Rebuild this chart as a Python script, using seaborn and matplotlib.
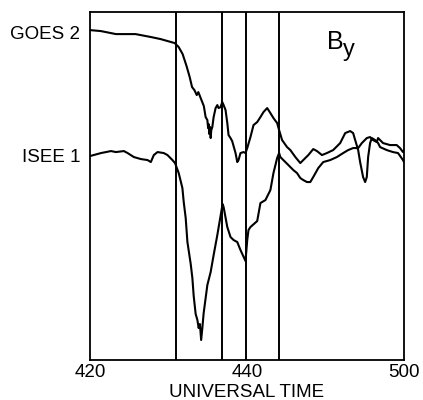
import numpy as np
import pandas as pd
import matplotlib.pyplot as plt
import seaborn as sns

# time in minutes after 04:20 UT, field in arbitrary plot units
goes_t = [0, 1.4, 3.3, 5.8, 7.8, 9.0, 9.9, 10.8, 11.3, 11.8, 12.3, 12.7, 13.0, 13.3,
          13.6, 13.8, 14.2, 14.5, 14.73, 14.95, 15.05, 15.11, 15.2, 15.3, 15.37, 15.45,
          15.58, 15.75, 16.0, 16.22, 16.38, 16.63, 16.85, 17.02, 17.27, 17.49, 17.65,
          17.9, 18.11, 18.29, 18.54, 18.76, 18.92, 19.17, 19.56, 19.81, 20.03, 20.44,
          20.83, 21.3, 21.71, 22.1, 22.57, 22.98, 23.37, 23.84, 24.09, 24.47, 25.1,
          25.52, 26.16, 26.79, 27.17, 27.81, 28.44, 28.91, 29.55, 30.18, 30.98, 31.87,
          32.51, 33.14, 33.52, 33.78, 34.16, 34.41, 34.79, 35.05, 35.26, 35.43, 35.68,
          35.9, 36.32, 36.7, 36.95, 37.8, 38.6, 39.24, 39.87, 40.0]
goes_by = [330, 329, 326, 326, 323, 321, 319, 317, 313, 306, 294, 283, 273, 270,
           265, 268, 260, 254, 243, 240, 232, 236, 226, 233, 222, 230,
           233, 243, 252, 255, 252, 253, 258, 255, 250, 237, 225,
           222, 219, 214, 207, 198, 200, 207, 208, 207, 212, 223,
           235, 238, 243, 248, 252, 247, 242, 237, 230, 220, 213,
           210, 203, 197, 200, 205, 211, 209, 205, 207, 210, 217,
           227, 229, 227, 220, 210, 198, 183, 178, 183, 203, 217,
           222, 220, 217, 213, 210, 208, 207, 200, 198]

isee_t = [0, 1.4, 2.67, 3.3, 4.32, 4.79, 5.59, 6.48, 7.33, 7.75, 8.13, 8.6, 9.4, 9.87,
          10.5, 10.83, 11.3, 11.77, 11.94, 12.19, 12.41, 12.83, 13.04, 13.21, 13.46,
          13.68, 13.84, 14.0, 14.16, 14.31, 14.48, 14.95, 15.37, 15.75, 16.22, 16.63,
          16.89, 17.02, 17.49, 17.9, 18.29, 18.76, 19.17, 19.81, 20.03, 20.19, 20.44,
          21.3, 21.71, 22.35, 22.98, 23.37, 23.84, 24.09, 24.25, 24.63, 25.27, 25.9,
          26.37, 26.79, 27.17, 27.64, 28.06, 28.44, 29.08, 29.71, 30.6, 31.45, 32.25,
          32.89, 33.52, 34.16, 34.63, 35.26, 35.68, 36.06, 36.53, 36.7, 37.33, 38.22,
          39.07, 39.49, 39.87, 40.0]
isee_by = [204, 207, 209, 208, 209, 207, 203, 201, 200, 198, 205, 208, 207, 205,
           200, 197, 187, 172, 158, 142, 118, 96, 82, 64, 46,
           40, 32, 36, 20, 32, 47, 75, 88, 105, 125, 144,
           156, 153, 133, 123, 120, 118, 110, 99, 120, 130, 133,
           139, 157, 160, 170, 187, 202, 207, 203, 200, 195, 190,
           187, 182, 180, 178, 178, 183, 192, 198, 200, 203, 207,
           210, 212, 212, 217, 222, 223, 220, 218, 222, 217, 215,
           215, 212, 208, 210]

boundaries = [10.9, 16.8, 19.9, 24.05]
time_ticks = [0, 20, 40]
time_labels = ["420", "440", "500"]
row_pos = [328, 205]
row_labels = ["GOES 2", "ISEE 1"]

df = pd.concat([
    pd.DataFrame({"t": goes_t, "by": goes_by, "sat": "GOES 2"}),
    pd.DataFrame({"t": isee_t, "by": isee_by, "sat": "ISEE 1"}),
])

sns.set_style("white")
plt.rcParams["font.family"] = ["Liberation Sans", "DejaVu Sans"]
plt.rcParams.update({"text.color": "black", "axes.labelcolor": "black",
                     "xtick.color": "black", "ytick.color": "black"})

fig = plt.figure(figsize=(4.23, 4.0), dpi=100)
ax = fig.add_axes([90 / 423, 0.1, 314 / 423, 0.871])

sns.lineplot(data=df, x="t", y="by", hue="sat", palette=["black", "black"],
             estimator=None, sort=False, linewidth=1.5, legend=False, ax=ax)

for b in boundaries:
    ax.axvline(b, color="black", linewidth=1.4)

ax.set_xlim(0, 40)
ax.set_ylim(0, 348.5)
ax.set_xticks(time_ticks)
ax.set_xticklabels(time_labels, fontsize=13.5)
ax.set_xticks(np.arange(0, 41, 4), minor=True)
ax.tick_params(axis="x", which="both", direction="in", length=4, width=1,
               color="black", pad=3)
ax.set_yticks(row_pos)
ax.set_yticklabels(row_labels, fontsize=13.5)
ax.tick_params(axis="y", length=0, pad=7)
ax.set_xlabel("UNIVERSAL TIME", fontsize=13.5, labelpad=2)
ax.set_ylabel("")

for s in ax.spines.values():
    s.set_color("black")
    s.set_linewidth(1.3)

ax.text(0.755, 0.893, "B", transform=ax.transAxes, fontsize=18, ha="left",
        va="baseline")
ax.text(0.806, 0.873, "y", transform=ax.transAxes, fontsize=17, ha="left",
        va="baseline")

fig.savefig("out.png", dpi=100)
